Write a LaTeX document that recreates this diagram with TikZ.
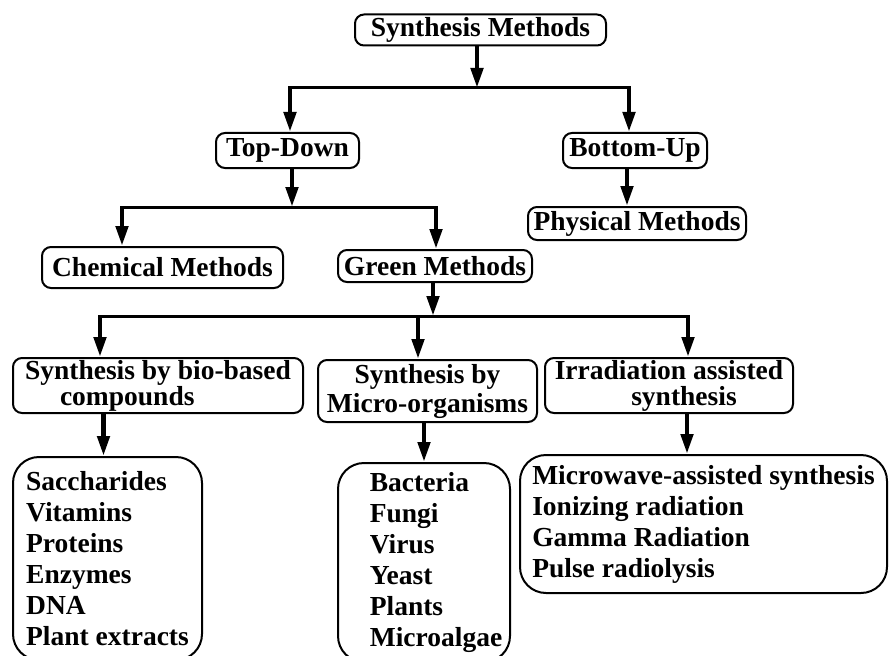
\documentclass[tikz,border=0pt]{standalone}
\usepackage{fontspec}
\setmainfont{Liberation Serif}
\usetikzlibrary{arrows.meta}
\tikzset{
  >={Triangle[length=20pt,width=12pt]},
}
\tikzstyle{every node}=[font=\bfseries\fontsize{27.5}{31}\selectfont]
\tikzstyle{box}=[draw,line width=2pt,rounded corners=9pt,inner sep=0pt,align=center]
\tikzstyle{listbox}=[draw,line width=2pt,rounded corners=26pt,inner sep=0pt,align=left]
\tikzstyle{twoline}=[font=\bfseries\fontsize{27.5}{26}\selectfont]
\tikzstyle{stem}=[line width=4.5pt,->]
\tikzstyle{bus}=[line width=3pt,shorten <=-2pt,shorten >=-2pt]

\begin{document}
\begin{tikzpicture}[x=1pt,y=-1pt]
        \clip (0,0) rectangle (890,655);
        % boxes
        \node[box,minimum width=251pt,minimum height=31pt] (sm) at (480.5,30) {Synthesis Methods};
        \node[box,minimum width=143pt,minimum height=35pt] (td) at (287.5,150.5) {Top-Down};
        \node[box,minimum width=144pt,minimum height=35pt] (bu) at (635,150.5) {Bottom-Up};
        \node[box,minimum width=218pt,minimum height=33pt] (pm) at (637,223.5) {Physical Methods};
        \node[box,minimum width=241pt,minimum height=41pt] (cm) at (162.5,267.5) {Chemical Methods};
        \node[box,minimum width=194pt,minimum height=32pt] (gm) at (435,266) {Green Methods};
        \node[box,twoline,align=left,minimum width=290pt,minimum height=55pt] (bio) at (158,385.5)
          {Synthesis by bio-based\\\hspace*{35pt}compounds};
        \node[box,font=\bfseries\fontsize{27.5}{29}\selectfont,minimum width=219pt,minimum height=62pt] (mic) at (427.5,391)
          {Synthesis by\\Micro-organisms};
        \node[box,twoline,minimum width=248pt,minimum height=55pt] (irr) at (669,385.5)
          {Irradiation assisted\\\hspace*{30pt}synthesis};
        % lists
        \node[listbox,minimum width=189pt,minimum height=203pt] (biol) at (107.5,558.5)
          {Saccharides\\Vitamins\\Proteins\\Enzymes\\DNA\\Plant extracts};
        \node[listbox,minimum width=172pt,minimum height=199pt] (micl) at (424,562.5)
          {\hspace*{24pt}Bacteria\\\hspace*{24pt}Fungi\\\hspace*{24pt}Virus\\\hspace*{24pt}Yeast\\\hspace*{24pt}Plants\\\hspace*{24pt}Microalgae};
        \node[listbox,minimum width=367pt,minimum height=138pt] (irrl) at (703.5,524)
          {Microwave-assisted synthesis\\Ionizing radiation\\Gamma Radiation\\Pulse radiolysis};
        % connectors
        \coordinate (j1) at (477,88);
        \coordinate (j1a) at (290,88);
        \coordinate (j1b) at (629,88);
        \draw[stem] (j1 |- sm.south) -- (j1);
        \draw[bus] (j1a) -- (j1b);
        \draw[stem] (j1a) -- (j1a |- td.north);
        \draw[stem] (j1b) -- (j1b |- bu.north);
        \draw[stem] ([xshift=-8pt]bu.south) -- ([xshift=-8pt]bu.south |- pm.north);
        \coordinate (j2) at (292,207);
        \coordinate (j2a) at (122,207);
        \coordinate (j2b) at (436,207);
        \draw[stem] (j2 |- td.south) -- (j2);
        \draw[bus] (j2a) -- (j2b);
        \draw[stem] (j2a) -- (j2a |- cm.north);
        \draw[stem] (j2b) -- (j2b |- gm.north);
        \coordinate (j3) at (433,316);
        \coordinate (j3a) at (100,316);
        \coordinate (j3b) at (418,316);
        \coordinate (j3c) at (688,316);
        \draw[stem] (j3 |- gm.south) -- (j3);
        \draw[bus] (j3a) -- (j3c);
        \draw[stem] (j3a) -- (j3a |- bio.north);
        \draw[stem] (j3b) -- (j3b |- mic.north);
        \draw[stem] (j3c) -- (j3c |- irr.north);
        \draw[stem] ([xshift=-4pt]biol.north |- bio.south) -- ([xshift=-4pt]biol.north);
        \draw[stem] (micl.north |- mic.south) -- (micl.north);
        \draw[stem] ([xshift=18pt]irr.south) -- ([xshift=18pt]irr.south |- irrl.north);
      \end{tikzpicture}
\end{document}
